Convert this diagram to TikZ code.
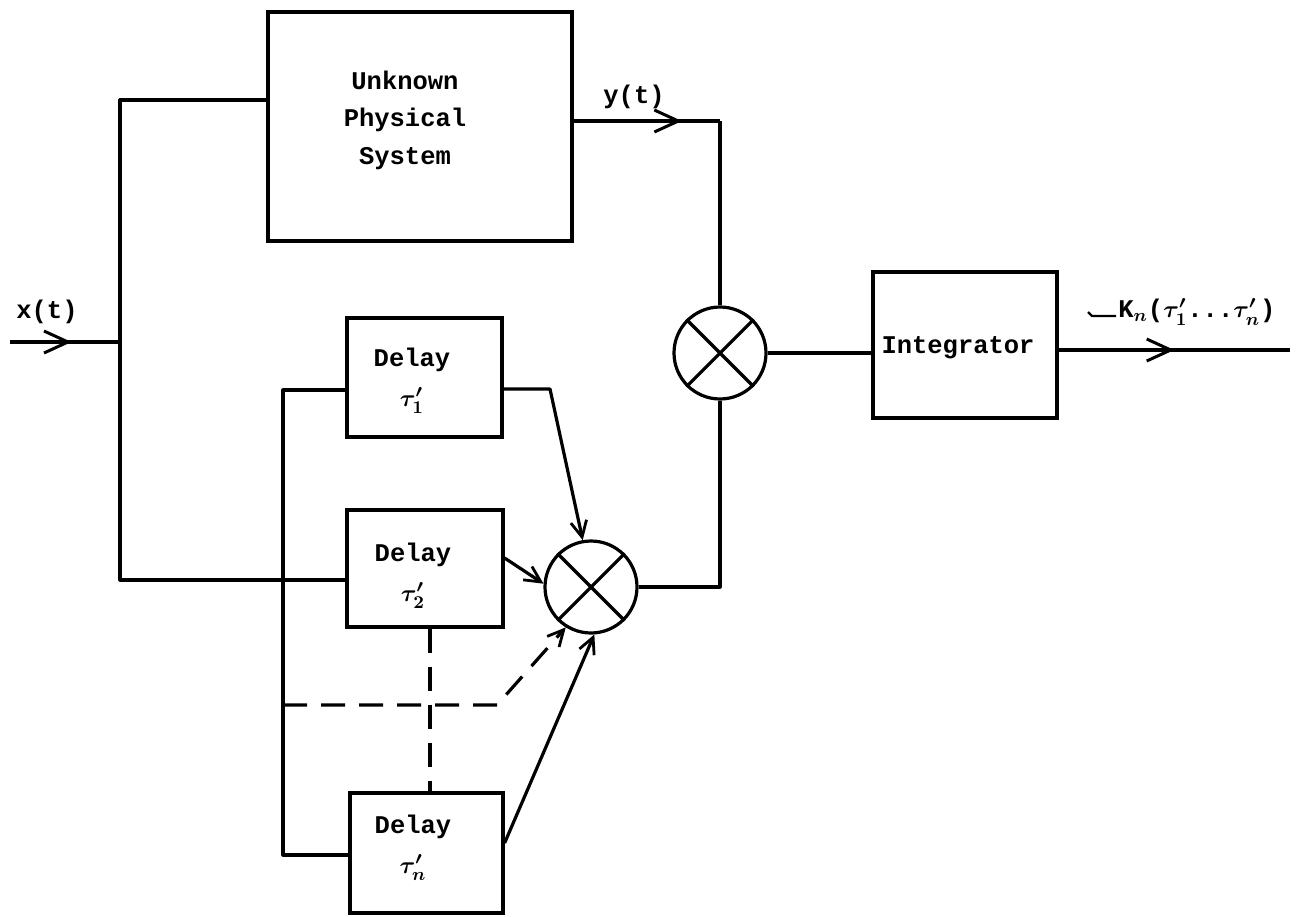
\documentclass[tikz,border=0pt]{standalone}
\usepackage{amsmath}
\usepackage{fontspec}
\setmonofont{Liberation Mono}
\usetikzlibrary{arrows.meta,decorations.markings}
\begin{document}
\begin{tikzpicture}[x=0.5pt,y=-0.5pt,
  every node/.style={font=\ttfamily\bfseries\fontsize{12.75}{18.75}\selectfont, inner sep=0pt},
  wire/.style={line width=1.6pt, line join=round},
  box/.style={draw, line width=1.6pt, inner sep=0pt},
  mult/.style={draw, circle, line width=1.6pt, minimum size=46pt, inner sep=0pt},
  barb/.style={-{Straight Barb[length=8pt,width=8pt,line width=1.4pt]}},
  midarrow/.style={postaction={decorate}, decoration={markings, mark=at position #1 with {\arrow{Straight Barb[length=12pt,width=11pt,line width=1.5pt]}}}},
  dashline/.style={wire, dash pattern=on 12pt off 7pt}
]
\useasboundingbox (0,0) rectangle (1300,916);

% boxes
\node[box, minimum width=152pt, minimum height=114.5pt] (ups) at (420,126.5) {};
\node[align=center] (upstext) at (405,120) {Unknown\\Physical\\System};
\node[box, minimum width=77.5pt, minimum height=59.5pt] (d1) at (424.5,377.5) {};
\node[align=center] (d1t) at (412,381) {Delay\\[1pt]\(\boldsymbol{\tau'_1}\)};
\node[box, minimum width=78pt, minimum height=58.5pt] (d2) at (425,568.5) {};
\node[align=center] (d2t) at (413,576) {Delay\\[1pt]\(\boldsymbol{\tau'_2}\)};
\node[box, minimum width=76.5pt, minimum height=60pt] (dn) at (426.5,853) {};
\node[align=center] (dnt) at (413,848) {Delay\\[1pt]\(\boldsymbol{\tau'_n}\)};
\node[box, minimum width=92pt, minimum height=73pt] (int) at (965,345) {};
\node (intt) at (958,348) {Integrator};

% multipliers
\node[mult] (m1) at (720,353) {};
\draw[wire] (m1.45) -- (m1.225) (m1.135) -- (m1.315);
\node[mult] (m2) at (591,587) {};
\draw[wire] (m2.45) -- (m2.225) (m2.135) -- (m2.315);

% labels
\node (xl) at (47,312) {x(t)};
\node (yl) at (634,97) {y(t)};
\node[anchor=west] (kl) at (1118,312) {K\(_{\boldsymbol{n}}\)(\(\boldsymbol{\tau'_1}\)...\(\boldsymbol{\tau'_n}\))};

% coordinates
\coordinate (xin) at (10,342);
\coordinate (xbus) at (120,342);
\coordinate (bustop) at (120,100);
\coordinate (busbot) at (120,580);
\coordinate (dbtop) at (283,390);
\coordinate (dbbot) at (283,855);
\coordinate (ycorner) at (720,121);
\coordinate (out) at (1290,350);
\coordinate (k1) at (550,389);
\coordinate (k2) at (0,558);
\coordinate (k3) at (0,843);
\coordinate (dx) at (430,705);
\coordinate (dk) at (497,705);

% input
\draw[wire, midarrow=0.56] (xin) -- (xbus);
\draw[wire] (bustop -| ups.west) -- (bustop) -- (busbot) -- (busbot -| d2.west);
\draw[wire] (dbtop -| d1.west) -- (dbtop) -- (dbbot) -- (dbbot -| dn.west);

% y(t)
\draw[wire, midarrow=0.74] (ups.east |- ycorner) -- (ycorner);
\draw[wire] (ycorner) -- (m1.north);

% delays to lower multiplier
\draw[wire, barb] (k1 -| d1.east) -- (k1) -- (m2.100);
\draw[wire, barb] (d2.east |- k2) -- (m2.176);
\draw[wire, barb] (dn.east |- k3) -- (m2.274);

% dashed
\draw[dashline] (d2.south -| dx) -- (dn.north -| dx);
\draw[dashline, barb] (dbtop |- dx) -- (dk) -- (m2.238);

% multiplier chain
\draw[wire] (m2.east) -| (m1.south);
\draw[wire] (m1.east) -- (m1.east -| int.west);
\draw[wire, midarrow=0.5] (int.east |- out) -- (out);
\draw[line width=1.2pt] ([xshift=-1pt,yshift=-2pt]kl.west) -- ++(-12pt,0) -- ++(-2pt,2pt);
\end{tikzpicture}
\end{document}
